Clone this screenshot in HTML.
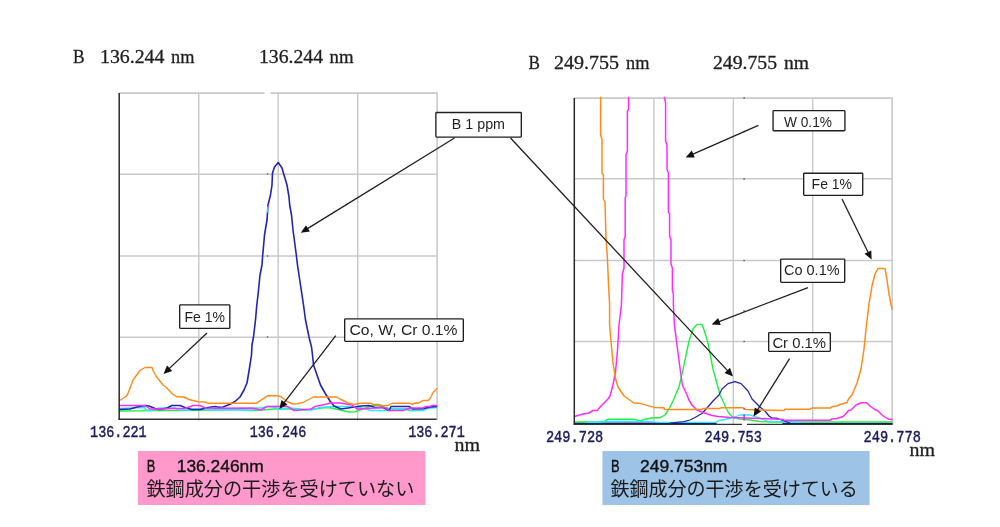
<!DOCTYPE html>
<html lang="ja">
<head>
<meta charset="utf-8">
<title>B 136.246nm / 249.753nm spectra</title>
<style>
html,body{margin:0;padding:0;background:#fff;}
body{width:1000px;height:527px;overflow:hidden;font-family:"Liberation Sans",sans-serif;}
svg{display:block;will-change:transform;}
text{white-space:pre;}
</style>
</head>
<body>
<svg width="1000" height="527" viewBox="0 0 1000 527">
<rect width="1000" height="527" fill="#fff"/>
<g id="left-grid">
<line x1="198.8" y1="93.1" x2="198.8" y2="420.7" stroke="#c9c9c9" stroke-width="1.45"/>
<line x1="278.2" y1="93.1" x2="278.2" y2="420.7" stroke="#c9c9c9" stroke-width="1.45"/>
<line x1="357.7" y1="93.1" x2="357.7" y2="420.7" stroke="#c9c9c9" stroke-width="1.45"/>
<line x1="119.2" y1="174.2" x2="437.1" y2="174.2" stroke="#c9c9c9" stroke-width="1.5"/>
<line x1="119.2" y1="256.0" x2="437.1" y2="256.0" stroke="#c9c9c9" stroke-width="1.5"/>
<line x1="119.2" y1="337.2" x2="437.1" y2="337.2" stroke="#c9c9c9" stroke-width="1.5"/>
<line x1="119.2" y1="93.1" x2="437.90000000000003" y2="93.1" stroke="#c9c9c9" stroke-width="1.6"/>
<line x1="437.1" y1="93.1" x2="437.1" y2="419.9" stroke="#c9c9c9" stroke-width="1.6"/>
<rect x="264.5" y="90" width="6" height="6" fill="#fff"/>
</g>
<rect x="266.9" y="173.3" width="1.3" height="1.4" fill="#5a4ab0"/>
<rect x="266.9" y="255.3" width="1.3" height="1.4" fill="#5a4ab0"/>
<rect x="266.9" y="336.3" width="1.3" height="1.4" fill="#5a4ab0"/>
<g id="left-curves">
<path d="M119.5 411.0 L141.0 410.8 L147.0 410.2 L153.0 410.5 L176.0 410.5 L190.0 410.2 L215.0 410.0 L233.0 409.5 L242.0 409.6 L250.0 410.5 L262.0 410.0 L274.0 409.0 L291.0 409.0 L296.0 410.0 L306.0 410.0 L318.0 408.5 L325.0 407.5 L332.0 408.0 L340.0 410.0 L349.0 412.0 L355.0 411.8 L360.0 410.0 L367.0 407.5 L372.0 405.5 L379.0 405.5 L385.0 407.5 L391.0 409.0 L404.0 409.0 L410.0 410.5 L415.0 410.5 L424.0 409.0 L430.0 407.5 L436.5 406.5" fill="none" stroke="#22ee44" stroke-width="1.5" stroke-linejoin="round" stroke-linecap="round" />
<path d="M119.5 408.5 L145.0 407.5 L146.0 410.5 L152.0 410.5 L159.0 408.0 L175.0 408.0 L179.0 410.0 L189.0 410.0 L193.0 409.0 L209.0 409.0 L212.0 410.5 L215.0 410.0 L252.0 410.0 L253.0 408.0 L261.0 408.0 L269.0 406.5 L275.0 407.5 L279.0 409.0 L290.0 408.0 L301.0 409.0 L311.0 410.0 L315.0 409.0 L320.0 407.5 L335.0 406.5 L355.0 406.5 L360.0 407.5 L371.0 410.5 L391.0 410.5 L393.0 408.8 L409.0 408.8 L411.0 410.5 L423.0 410.5 L427.0 408.5 L436.5 407.5" fill="none" stroke="#22eef6" stroke-width="1.5" stroke-linejoin="round" stroke-linecap="round" />
<path d="M119.5 409.5 L130.0 409.0 L137.0 407.0 L145.0 405.5 L149.0 406.0 L155.0 408.5 L160.0 409.5 L167.0 408.0 L172.0 405.5 L180.0 405.5 L185.0 407.5 L192.0 409.5 L200.0 409.5 L208.0 407.5 L215.0 406.5 L219.0 407.2 L223.0 407.0 L230.0 404.3 L235.0 401.5 L240.0 397.0 L244.0 390.0 L247.0 383.0 L249.5 368.0 L251.5 355.0 L252.0 345.0 L253.5 337.0 L255.5 320.0 L256.8 305.0 L258.0 295.0 L259.0 285.0 L260.0 275.0 L262.0 265.0 L262.7 255.0 L263.2 250.0 L264.5 235.0 L267.0 220.0 L268.0 205.0 L270.5 195.0 L272.0 185.0 L272.5 173.0 L274.5 167.0 L278.3 162.5 L282.0 168.0 L284.0 175.0 L287.0 185.0 L289.0 197.0 L289.7 205.0 L291.5 215.0 L293.0 230.0 L295.0 245.0 L296.3 255.0 L297.5 265.0 L299.0 275.0 L300.5 285.0 L302.0 295.0 L303.5 305.0 L305.5 320.0 L309.0 337.0 L311.5 347.0 L312.5 355.0 L313.5 365.0 L317.0 375.0 L320.5 385.0 L325.0 393.0 L330.0 401.0 L334.0 406.0 L341.0 409.0 L348.0 408.0 L361.0 406.0 L369.0 405.5 L375.0 407.5 L383.0 407.5 L389.0 410.5 L391.0 406.5 L409.0 406.5 L413.0 409.0 L424.0 408.5 L430.0 407.0 L436.5 406.5" fill="none" stroke="#2323b4" stroke-width="1.6" stroke-linejoin="round" stroke-linecap="round" />
<path d="M119.5 405.5 L145.0 405.5 L150.0 409.0 L162.0 409.0 L172.0 408.5 L185.0 408.5 L193.0 405.5 L200.0 405.5 L205.0 408.0 L215.0 408.2 L252.0 408.0 L261.0 410.0 L267.0 406.5 L287.0 406.2 L294.0 410.5 L311.0 409.0 L315.0 406.5 L327.0 404.0 L330.0 403.0 L340.0 403.0 L352.0 405.0 L357.0 409.0 L367.0 408.5 L385.0 407.5 L389.0 410.5 L403.0 410.5 L410.0 408.0 L423.0 408.0 L426.0 406.5 L430.0 406.5 L432.0 405.5 L436.5 405.5" fill="none" stroke="#ff2cff" stroke-width="1.5" stroke-linejoin="round" stroke-linecap="round" />
<path d="M119.5 400.5 L126.0 396.5 L128.0 393.5 L133.0 380.0 L140.0 370.5 L145.0 367.5 L152.0 367.5 L153.5 371.5 L156.0 376.0 L163.0 385.0 L166.5 387.5 L173.0 394.5 L177.0 396.8 L184.0 397.0 L189.0 399.5 L198.0 401.8 L205.0 402.0 L208.0 403.2 L256.5 403.2 L267.5 395.8 L278.0 395.8 L281.5 397.0 L287.0 401.5 L293.0 404.0 L297.0 403.8 L303.0 402.5 L313.5 397.0 L336.5 397.0 L340.0 399.0 L348.0 403.0 L354.0 404.5 L360.0 403.2 L371.0 403.2 L373.0 404.5 L379.0 404.5 L383.0 405.8 L388.0 405.5 L392.5 403.2 L409.5 403.2 L412.0 404.5 L415.0 403.0 L418.5 403.2 L423.0 400.5 L428.0 400.5 L430.5 398.0 L433.0 392.5 L436.5 389.0" fill="none" stroke="#ff8c1a" stroke-width="1.4" stroke-linejoin="round" stroke-linecap="round" />
<line x1="267.9" y1="206.5" x2="267.5" y2="212.5" stroke="#38e0e8" stroke-width="1.3"/>
<rect x="267.4" y="204.2" width="1.4" height="1.8" fill="#c828d0"/>
</g>
<line x1="119.2" y1="93.1" x2="119.2" y2="419.9" stroke="#2a2a2a" stroke-width="1.5"/>
<line x1="118.5" y1="419.2" x2="436.6" y2="419.2" stroke="#333" stroke-width="1.5"/>
<g id="right-grid">
<line x1="653.9" y1="98.1" x2="653.9" y2="425.5" stroke="#c9c9c9" stroke-width="1.45"/>
<line x1="733.3" y1="98.1" x2="733.3" y2="425.5" stroke="#c9c9c9" stroke-width="1.45"/>
<line x1="812.7" y1="98.1" x2="812.7" y2="425.5" stroke="#c9c9c9" stroke-width="1.45"/>
<line x1="574.3" y1="178.8" x2="892.1" y2="178.8" stroke="#c9c9c9" stroke-width="1.5"/>
<line x1="574.3" y1="260.4" x2="892.1" y2="260.4" stroke="#c9c9c9" stroke-width="1.5"/>
<line x1="574.3" y1="341.6" x2="892.1" y2="341.6" stroke="#c9c9c9" stroke-width="1.5"/>
<line x1="574.3" y1="98.1" x2="892.9" y2="98.1" stroke="#c9c9c9" stroke-width="1.6"/>
<line x1="892.1" y1="98.1" x2="892.1" y2="424.7" stroke="#c9c9c9" stroke-width="1.6"/>
<rect x="743.4" y="97.3" width="1.4" height="1.4" fill="#4a3aa0"/>
<rect x="743.4" y="130.8" width="1.4" height="1.4" fill="#4a3aa0"/>
<rect x="743.4" y="178.3" width="1.4" height="1.4" fill="#4a3aa0"/>
<rect x="743.4" y="259.8" width="1.4" height="1.4" fill="#4a3aa0"/>
<rect x="743.4" y="310.3" width="1.4" height="1.4" fill="#4a3aa0"/>
<rect x="743.4" y="340.8" width="1.4" height="1.4" fill="#4a3aa0"/>
</g>
<g id="right-curves">
<path d="M574.5 423.3 L716.0 423.3" fill="none" stroke="#14147a" stroke-width="1.4" stroke-linejoin="round" stroke-linecap="round" />
<path d="M783.0 423.4 L892.0 423.4" fill="none" stroke="#14147a" stroke-width="1.4" stroke-linejoin="round" stroke-linecap="round" />
<path d="M574.5 422.0 L599.5 422.0 L605.0 421.2 L608.0 419.2 L634.0 419.2 L640.0 421.0 L645.0 419.2 L653.0 417.7 L660.0 417.7 L665.0 415.0 L669.0 409.0 L673.0 401.0 L675.5 395.0 L679.0 387.0 L684.0 365.0 L689.0 341.0 L693.0 329.0 L697.0 324.4 L702.0 324.4 L704.4 331.0 L708.0 343.0 L713.0 369.0 L719.0 391.0 L720.0 395.0 L723.0 401.0 L726.0 408.0 L729.0 413.5 L733.0 417.5 L740.0 419.0 L750.0 420.0 L760.0 421.5 L770.0 422.0 L892.0 422.0" fill="none" stroke="#22ee44" stroke-width="1.4" stroke-linejoin="round" stroke-linecap="round" />
<path d="M586.0 422.3 L600.0 422.3 L605.0 421.5 L634.0 421.3 L645.0 421.3 L660.0 422.3 L716.0 422.3 L719.0 420.5 L725.0 419.5 L736.0 416.5 L740.0 415.0 L750.0 415.0 L760.0 418.2 L763.0 419.5 L769.0 421.5 L779.0 421.7 L800.0 422.3" fill="none" stroke="#22eef6" stroke-width="1.3" stroke-linejoin="round" stroke-linecap="round" />
<path d="M670.0 423.0 L684.0 421.7 L690.0 420.0 L695.0 417.5 L702.0 413.5 L707.0 408.0 L713.0 401.0 L719.0 395.0 L722.0 389.0 L728.0 383.6 L735.0 381.6 L741.0 383.6 L748.0 391.0 L752.0 399.0 L756.0 403.0 L760.0 407.0 L765.0 411.0 L769.0 416.0 L772.0 418.0 L777.0 418.2 L780.0 419.5 L783.0 420.5 L790.0 423.0" fill="none" stroke="#2323b4" stroke-width="1.25" stroke-linejoin="round" stroke-linecap="round" />
<path d="M574.5 416.5 L583.0 414.0 L589.0 413.0 L593.0 410.5 L597.0 410.5 L602.0 405.0 L608.0 399.0 L610.0 396.0 L613.0 385.0 L615.6 371.0 L617.6 349.0 L619.0 325.0 L621.4 305.0 L622.4 274.0 L624.0 268.0 L624.0 240.0 L625.2 236.0 L625.2 198.0 L626.0 196.0 L626.0 155.0 L627.4 151.0 L627.4 111.0 L628.6 109.0 L628.6 97.4" fill="none" stroke="#ff2cff" stroke-width="1.5" stroke-linejoin="round" stroke-linecap="round" />
<path d="M664.4 97.4 L665.6 103.0 L665.6 141.0 L667.0 145.0 L667.0 169.0 L668.4 173.0 L668.4 212.0 L669.6 214.0 L669.6 236.0 L671.0 240.0 L671.0 264.0 L672.4 268.0 L672.4 290.0 L673.4 294.0 L673.4 305.0 L674.4 325.0 L677.0 345.0 L679.6 365.0 L682.4 385.0 L687.0 395.0 L689.0 400.0 L692.0 405.0 L697.0 410.0 L703.0 412.5 L712.0 415.5 L718.0 416.5 L730.0 417.5 L760.0 418.5 L783.0 419.5 L784.0 420.2 L830.0 420.2 L832.0 419.0 L837.0 418.5 L843.0 416.5 L846.0 413.5 L848.5 410.5 L851.0 410.0 L856.0 405.0 L861.0 402.8 L866.5 402.8 L870.0 406.0 L874.0 409.0 L878.0 411.0 L882.0 415.0 L888.0 419.0 L892.0 419.5" fill="none" stroke="#ff2cff" stroke-width="1.5" stroke-linejoin="round" stroke-linecap="round" />
<path d="M600.6 97.4 L600.6 135.0 L602.0 139.0 L602.0 173.0 L603.4 175.0 L603.4 199.0 L605.0 202.0 L606.0 238.0 L607.4 258.0 L608.6 286.0 L609.6 304.0 L609.6 325.0 L611.0 341.0 L613.0 363.0 L615.6 379.0 L618.0 387.0 L624.0 396.0 L634.0 403.0 L640.0 403.4 L654.0 407.4 L660.0 407.8 L664.0 407.8 L664.5 409.5 L702.0 409.5 L703.0 408.5 L720.0 408.5 L721.0 407.8 L743.0 407.8 L746.0 409.5 L760.0 410.0 L784.0 410.5 L785.0 409.2 L810.0 409.2 L812.0 408.0 L830.0 408.0 L832.0 406.8 L837.0 406.0 L840.0 404.5 L847.0 402.5 L848.5 399.0 L852.0 395.0 L857.0 383.0 L861.0 369.0 L864.0 349.0 L866.0 329.0 L869.0 304.0 L872.0 286.0 L875.0 274.0 L878.0 268.4 L885.0 268.4 L887.0 280.0 L889.0 294.0 L891.0 304.0 L892.0 309.0" fill="none" stroke="#ff8c1a" stroke-width="1.5" stroke-linejoin="round" stroke-linecap="round" />
<line x1="744.1" y1="414.3" x2="744.1" y2="420.6" stroke="#b428c8" stroke-width="1.3"/>
<rect x="743.4" y="408" width="1.4" height="1.6" fill="#a050c0"/>
</g>
<line x1="574.3" y1="98.1" x2="574.3" y2="424.7" stroke="#2a2a2a" stroke-width="1.5"/>
<line x1="573.5999999999999" y1="424.4" x2="742" y2="424.4" stroke="#333" stroke-width="1.4"/>
<line x1="747" y1="424.4" x2="892.7" y2="424.4" stroke="#333" stroke-width="1.4"/>
<g id="arrows">
<line x1="454.5" y1="138" x2="307.1" y2="228.9" stroke="#1f1f1f" stroke-width="1.3"/><polygon points="300.8,232.8 306.0,225.2 309.9,231.6" fill="#111"/>
<line x1="510.5" y1="138" x2="728.0" y2="371.1" stroke="#1f1f1f" stroke-width="1.3"/><polygon points="733.0,376.5 724.5,372.9 730.0,367.8" fill="#111"/>
<line x1="207" y1="333" x2="168.9" y2="368.9" stroke="#1f1f1f" stroke-width="1.3"/><polygon points="163.5,374.0 167.0,365.5 172.2,371.0" fill="#111"/>
<line x1="335.8" y1="335.6" x2="283.8" y2="403.1" stroke="#1f1f1f" stroke-width="1.3"/><polygon points="279.3,409.0 281.5,400.1 287.4,404.6" fill="#111"/>
<line x1="758.4" y1="125.4" x2="692.4" y2="154.4" stroke="#1f1f1f" stroke-width="1.3"/><polygon points="685.6,157.4 691.8,150.6 694.8,157.5" fill="#111"/>
<line x1="842" y1="199" x2="868.4" y2="253.0" stroke="#1f1f1f" stroke-width="1.3"/><polygon points="871.6,259.6 864.5,253.7 871.3,250.4" fill="#111"/>
<line x1="808" y1="287.6" x2="718.5" y2="321.8" stroke="#1f1f1f" stroke-width="1.3"/><polygon points="711.6,324.4 718.1,317.9 720.8,324.9" fill="#111"/>
<line x1="789.6" y1="358.6" x2="757.4" y2="410.2" stroke="#1f1f1f" stroke-width="1.3"/><polygon points="753.5,416.5 754.8,407.4 761.1,411.4" fill="#111"/>
</g>
<g id="labels">
<rect x="435.88" y="112.47" width="85.45" height="24.65" rx="0.8" fill="#fff" stroke="#1f1f1f" stroke-width="1.35"/><text x="451.8" y="129" font-family="Liberation Sans, sans-serif" font-size="14.7" fill="#1f1f1f" textLength="53.2" lengthAdjust="spacingAndGlyphs">B 1 ppm</text>
<rect x="179.68" y="304.88" width="50.15" height="23.45" rx="0.8" fill="#fff" stroke="#1f1f1f" stroke-width="1.35"/><text x="184.5" y="321.8" font-family="Liberation Sans, sans-serif" font-size="15" fill="#1f1f1f" textLength="40.5" lengthAdjust="spacingAndGlyphs">Fe 1%</text>
<rect x="344.68" y="318.88" width="118.65" height="22.45" rx="0.8" fill="#fff" stroke="#1f1f1f" stroke-width="1.35"/><text x="349.5" y="335" font-family="Liberation Sans, sans-serif" font-size="15.2" fill="#1f1f1f" textLength="108.0" lengthAdjust="spacingAndGlyphs">Co, W, Cr 0.1%</text>
<rect x="773.07" y="110.67" width="71.85" height="20.05" rx="0.8" fill="#fff" stroke="#1f1f1f" stroke-width="1.35"/><text x="784" y="126.6" font-family="Liberation Sans, sans-serif" font-size="14" fill="#1f1f1f" textLength="48.0" lengthAdjust="spacingAndGlyphs">W 0.1%</text>
<rect x="803.67" y="173.28" width="59.05" height="22.05" rx="0.8" fill="#fff" stroke="#1f1f1f" stroke-width="1.35"/><text x="811.6" y="189" font-family="Liberation Sans, sans-serif" font-size="14.5" fill="#1f1f1f" textLength="40.4" lengthAdjust="spacingAndGlyphs">Fe 1%</text>
<rect x="780.67" y="259.07" width="64.05" height="23.25" rx="0.8" fill="#fff" stroke="#1f1f1f" stroke-width="1.35"/><text x="784" y="275" font-family="Liberation Sans, sans-serif" font-size="14.8" fill="#1f1f1f" textLength="55.6" lengthAdjust="spacingAndGlyphs">Co 0.1%</text>
<rect x="768.67" y="332.68" width="61.65" height="18.65" rx="0.8" fill="#fff" stroke="#1f1f1f" stroke-width="1.35"/><text x="772.4" y="348" font-family="Liberation Sans, sans-serif" font-size="14" fill="#1f1f1f" textLength="53.6" lengthAdjust="spacingAndGlyphs">Cr 0.1%</text>
</g>
<g id="titles">
<text x="73" y="62.6" font-family="Liberation Serif, serif" font-size="18" fill="#1f1f1f" text-anchor="start" textLength="11.6" lengthAdjust="spacingAndGlyphs" stroke="#1f1f1f" stroke-width="0.3">B</text>
<text x="100" y="62.6" font-family="Liberation Serif, serif" font-size="18" fill="#1f1f1f" text-anchor="start" textLength="64.4" lengthAdjust="spacingAndGlyphs" stroke="#1f1f1f" stroke-width="0.3">136.244</text>
<text x="171" y="62.6" font-family="Liberation Serif, serif" font-size="18" fill="#1f1f1f" text-anchor="start" textLength="23.4" lengthAdjust="spacingAndGlyphs" stroke="#1f1f1f" stroke-width="0.3">nm</text>
<text x="259" y="62.6" font-family="Liberation Serif, serif" font-size="18" fill="#1f1f1f" text-anchor="start" textLength="64" lengthAdjust="spacingAndGlyphs" stroke="#1f1f1f" stroke-width="0.3">136.244</text>
<text x="329.6" y="62.6" font-family="Liberation Serif, serif" font-size="18" fill="#1f1f1f" text-anchor="start" textLength="24" lengthAdjust="spacingAndGlyphs" stroke="#1f1f1f" stroke-width="0.3">nm</text>
<text x="528.4" y="69" font-family="Liberation Serif, serif" font-size="18" fill="#1f1f1f" text-anchor="start" textLength="11.4" lengthAdjust="spacingAndGlyphs" stroke="#1f1f1f" stroke-width="0.3">B</text>
<text x="554" y="69" font-family="Liberation Serif, serif" font-size="18" fill="#1f1f1f" text-anchor="start" textLength="65" lengthAdjust="spacingAndGlyphs" stroke="#1f1f1f" stroke-width="0.3">249.755</text>
<text x="626" y="69" font-family="Liberation Serif, serif" font-size="18" fill="#1f1f1f" text-anchor="start" textLength="23.4" lengthAdjust="spacingAndGlyphs" stroke="#1f1f1f" stroke-width="0.3">nm</text>
<text x="713" y="69" font-family="Liberation Serif, serif" font-size="18" fill="#1f1f1f" text-anchor="start" textLength="64" lengthAdjust="spacingAndGlyphs" stroke="#1f1f1f" stroke-width="0.3">249.755</text>
<text x="784" y="69" font-family="Liberation Serif, serif" font-size="18" fill="#1f1f1f" text-anchor="start" textLength="25" lengthAdjust="spacingAndGlyphs" stroke="#1f1f1f" stroke-width="0.3">nm</text>
</g>
<g id="axis-labels">
<text x="90.10000000000001" y="437" font-family="Liberation Mono, monospace" font-size="16.8" fill="#1b1b5e" text-anchor="start" textLength="56.6" lengthAdjust="spacingAndGlyphs" stroke="#1b1b5e" stroke-width="0.45">136.221</text>
<text x="249.7" y="437" font-family="Liberation Mono, monospace" font-size="16.8" fill="#1b1b5e" text-anchor="start" textLength="56.6" lengthAdjust="spacingAndGlyphs" stroke="#1b1b5e" stroke-width="0.45">136.246</text>
<text x="408.2" y="437" font-family="Liberation Mono, monospace" font-size="16.8" fill="#1b1b5e" text-anchor="start" textLength="56.6" lengthAdjust="spacingAndGlyphs" stroke="#1b1b5e" stroke-width="0.45">136.271</text>
<text x="545.9" y="442" font-family="Liberation Mono, monospace" font-size="16.8" fill="#1b1b5e" text-anchor="start" textLength="57.4" lengthAdjust="spacingAndGlyphs" stroke="#1b1b5e" stroke-width="0.45">249.728</text>
<text x="704.5999999999999" y="442" font-family="Liberation Mono, monospace" font-size="16.8" fill="#1b1b5e" text-anchor="start" textLength="57.4" lengthAdjust="spacingAndGlyphs" stroke="#1b1b5e" stroke-width="0.45">249.753</text>
<text x="863.5" y="442" font-family="Liberation Mono, monospace" font-size="16.8" fill="#1b1b5e" text-anchor="start" textLength="57.4" lengthAdjust="spacingAndGlyphs" stroke="#1b1b5e" stroke-width="0.45">249.778</text>
<text x="454.5" y="450.5" font-family="Liberation Serif, serif" font-size="18" fill="#1f1f1f" text-anchor="start" textLength="25.5" lengthAdjust="spacingAndGlyphs" stroke="#1f1f1f" stroke-width="0.3">nm</text>
<text x="909.5" y="455.5" font-family="Liberation Serif, serif" font-size="18" fill="#1f1f1f" text-anchor="start" textLength="25.5" lengthAdjust="spacingAndGlyphs" stroke="#1f1f1f" stroke-width="0.3">nm</text>
</g>
<g id="captions">
<rect x="138" y="451" width="287.4" height="54" fill="#ff99cc"/>
<rect x="602.4" y="451" width="267.2" height="54" fill="#9dc3e6"/>
<text x="146.75" y="472" font-family="Liberation Sans, sans-serif" font-size="16.6" fill="#111" text-anchor="start" textLength="8.6" lengthAdjust="spacingAndGlyphs" stroke="#111" stroke-width="0.35">B</text>
<text x="176.75" y="472" font-family="Liberation Sans, sans-serif" font-size="16.6" fill="#111" text-anchor="start" textLength="87" lengthAdjust="spacingAndGlyphs" stroke="#111" stroke-width="0.35">136.246nm</text>
<text x="611" y="472" font-family="Liberation Sans, sans-serif" font-size="16.6" fill="#111" text-anchor="start" textLength="8.6" lengthAdjust="spacingAndGlyphs" stroke="#111" stroke-width="0.35">B</text>
<text x="640" y="472" font-family="Liberation Sans, sans-serif" font-size="16.6" fill="#111" text-anchor="start" textLength="87.4" lengthAdjust="spacingAndGlyphs" stroke="#111" stroke-width="0.35">249.753nm</text>
<text x="146.4" y="495.5" font-family="Liberation Sans, Noto Sans CJK JP, sans-serif" font-size="19.2" fill="#1a1a1a" text-anchor="start" textLength="268" lengthAdjust="spacingAndGlyphs">鉄鋼成分の干渉を受けていない</text>
<text x="610.4" y="495.5" font-family="Liberation Sans, Noto Sans CJK JP, sans-serif" font-size="19.2" fill="#1a1a1a" text-anchor="start" textLength="247.5" lengthAdjust="spacingAndGlyphs">鉄鋼成分の干渉を受けている</text>
</g>
</svg>
</body>
</html>
